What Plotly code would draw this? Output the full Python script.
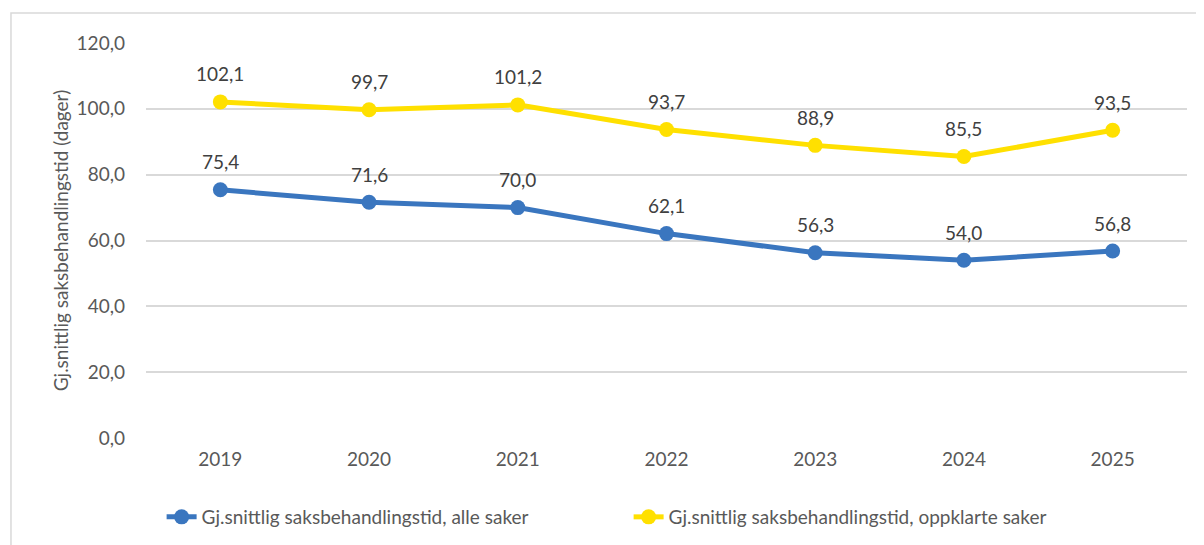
import plotly.graph_objects as go

years = ["2019", "2020", "2021", "2022", "2023", "2024", "2025"]
alle_saker = [75.4, 71.6, 70.0, 62.1, 56.3, 54.0, 56.8]
oppklarte_saker = [102.1, 99.7, 101.2, 93.7, 88.9, 85.5, 93.5]
series_names = ["Gj.snittlig saksbehandlingstid, alle saker",
                "Gj.snittlig saksbehandlingstid, oppklarte saker"]
y_title = "Gj.snittlig saksbehandlingstid (dager)"
y_ticks = [0, 20, 40, 60, 80, 100, 120]

FONT = "Lato, Calibri, sans-serif"
TXT = "#595959"
colors = ["#3A76BF", "#FFE000"]

fig = go.Figure()
for name, vals, col in zip(series_names, [alle_saker, oppklarte_saker], colors):
    fig.add_trace(go.Scatter(
        x=years, y=vals, name=name, mode="lines+markers",
        line=dict(color=col, width=5),
        marker=dict(color=col, size=15),
    ))
    for i, v in enumerate(vals):
        fig.add_annotation(
            x=i, y=v, text=f"{v:.1f}".replace(".", ","), showarrow=False,
            yshift=28, font=dict(family=FONT, size=19, color="#404040"),
        )

fig.update_layout(
    width=1204, height=545,
    margin=dict(l=138, r=25, t=35, b=115, autoexpand=False),
    paper_bgcolor="white", plot_bgcolor="white",
    separators=",.",
    font=dict(family=FONT, size=19, color=TXT),
    showlegend=True,
    legend=dict(orientation="h", x=0.015, y=-0.2, xanchor="left", yanchor="middle",
                font=dict(family=FONT, size=19, color=TXT), entrywidth=422,
                bgcolor="rgba(0,0,0,0)"),
    xaxis=dict(type="category", range=[-0.5, 6.5], showgrid=False, showline=False, ticks="",
               automargin=False,
               tickfont=dict(family=FONT, size=19, color=TXT), ticklabelstandoff=8),
    yaxis=dict(range=[0, 120], tickvals=y_ticks, tickformat=".1f",
               showgrid=True, gridcolor="#D9D9D9", gridwidth=1.5,
               zeroline=False, showline=False, ticks="", automargin=False,
               ticklabelstandoff=20,
               tickfont=dict(family=FONT, size=19, color=TXT),
               title=dict(text=y_title, font=dict(family=FONT, size=19, color=TXT), standoff=2)),
    shapes=[dict(type="rect", xref="paper", yref="paper", x0=-0.1297, x1=1.2,
                 y0=-0.5, y1=1.076, line=dict(color="#D9D9D9", width=1.5),
                 fillcolor="rgba(0,0,0,0)", layer="below")],
)

fig.write_html("out.html")
